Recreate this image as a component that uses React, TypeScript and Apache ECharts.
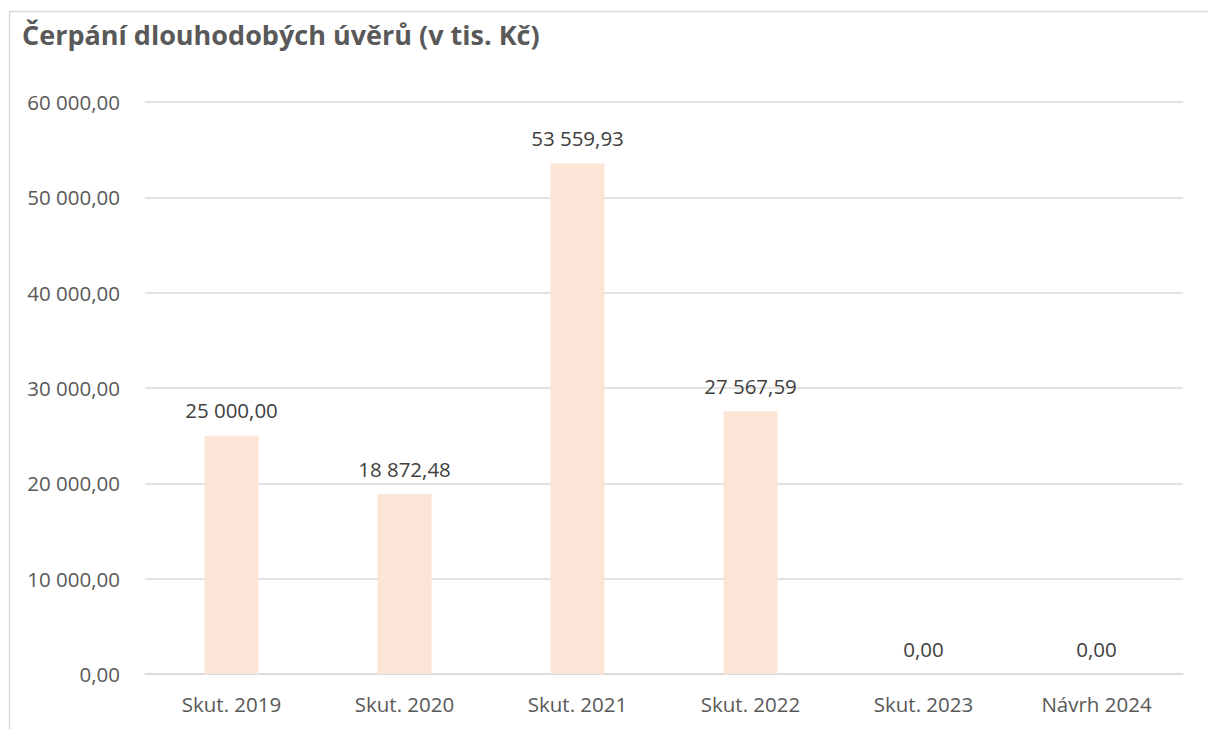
import React, { useEffect, useRef } from "react";
import * as echarts from "echarts";

const categories = ["Skut. 2019", "Skut. 2020", "Skut. 2021", "Skut. 2022", "Skut. 2023", "Návrh 2024"];
const values = [25000, 18872.48, 53559.93, 27567.59, 0, 0];
const titleText = "Čerpání dlouhodobých úvěrů (v tis. Kč)";

const FONT = "'Open Sans', 'Noto Sans', sans-serif";

function fmt(v: number): string {
  const fixed = Math.abs(v).toFixed(2);
  const [intPart, dec] = fixed.split(".");
  const withSpaces = intPart.replace(/\B(?=(\d{3})+(?!\d))/g, " ");
  return (v < 0 ? "-" : "") + withSpaces + "," + dec;
}

export default function App() {
  const ref = useRef<HTMLDivElement>(null);
  useEffect(() => {
    document.body.style.margin = "0";
    if (!ref.current) return;
    const chart = echarts.init(ref.current, undefined, { renderer: "svg" });
    chart.setOption({
      animation: false,
      backgroundColor: "#ffffff",
      title: {
        text: titleText,
        left: 17,
        top: 16,
        textStyle: { fontFamily: FONT, fontSize: 27, fontWeight: "bold", color: "#595959" },
      },
      graphic: [
        {
          type: "rect",
          left: 7,
          top: 9,
          shape: { x: 0, y: 0, width: 1300, height: 800 },
          style: { fill: "none", stroke: "#d9d9d9", lineWidth: 1.5 },
          silent: true,
          z: -1,
        },
      ],
      grid: { left: 145, right: 25, top: 102, bottom: 55, containLabel: false },
      xAxis: {
        type: "category",
        data: categories,
        axisLine: { show: true, lineStyle: { color: "#d9d9d9", width: 1.5 } },
        axisTick: { show: false },
        axisLabel: { fontFamily: FONT, fontSize: 20.5, color: "#595959", margin: 19 },
      },
      yAxis: {
        type: "value",
        min: 0,
        max: 60000,
        interval: 10000,
        axisLine: { show: false },
        axisTick: { show: false },
        splitLine: { lineStyle: { color: "#d9d9d9", width: 1.5 } },
        axisLabel: {
          fontFamily: FONT,
          fontSize: 20.5,
          color: "#595959",
          margin: 25,
          formatter: (v: number) => fmt(v),
        },
      },
      series: [
        {
          type: "bar",
          data: values,
          barWidth: 54,
          itemStyle: { color: "#FBE5D6" },
          label: {
            show: true,
            position: "top",
            distance: 15,
            fontFamily: FONT,
            fontSize: 20.5,
            color: "#404040",
            formatter: (p: any) => fmt(p.value),
          },
        },
      ],
    });
    return () => chart.dispose();
  }, []);
  return <div ref={ref} style={{ width: 1208, height: 729 }} />;
}
